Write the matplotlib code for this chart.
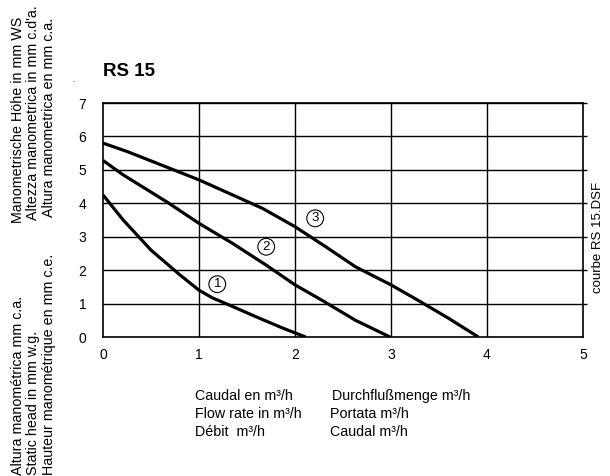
import matplotlib
matplotlib.use("Agg")
import matplotlib.pyplot as plt

plt.rcParams['font.family'] = ['Liberation Sans', 'DejaVu Sans']

# Pump curves: flow rate (m3/h) vs. head (m)
flow_1 = [0.0, 0.21, 0.50, 0.80, 1.00, 1.14, 1.28, 1.59, 1.87, 2.11]
head_1 = [4.25, 3.50, 2.60, 1.86, 1.40, 1.17, 1.00, 0.61, 0.27, 0.0]

flow_2 = [0.0, 0.21, 0.66, 1.00, 1.35, 1.70, 2.00, 2.28, 2.63, 2.99]
head_2 = [5.28, 4.85, 4.05, 3.40, 2.80, 2.15, 1.56, 1.10, 0.50, 0.0]

flow_3 = [0.0, 0.25, 0.56, 1.00, 1.35, 1.66, 2.00, 2.32, 2.63, 3.00, 3.28, 3.60, 3.91]
head_3 = [5.80, 5.55, 5.20, 4.70, 4.25, 3.85, 3.30, 2.70, 2.10, 1.56, 1.10, 0.56, 0.0]

curve_labels = ["1", "2", "3"]
label_x = [1.19, 1.70, 2.21]
label_y = [1.58, 2.70, 3.55]

x_ticks = [0, 1, 2, 3, 4, 5]
y_ticks = [0, 1, 2, 3, 4, 5, 6, 7]

fig = plt.figure(figsize=(6.10, 4.76), dpi=100)
ax = fig.add_axes([0.1689, 0.292, 0.7868, 0.4916])
ax.set_xlim(0, 5)
ax.set_ylim(0, 7)

# grid
for xv in x_ticks[1:-1]:
    ax.axvline(xv, color='black', lw=1.0, zorder=1)
ax.hlines(y_ticks[1:], 0, 5.04, color='black', lw=1.0, clip_on=False, zorder=1)
for s in ax.spines.values():
    s.set_linewidth(1.2)

for fx, hy in [(flow_1, head_1), (flow_2, head_2), (flow_3, head_3)]:
    ax.plot(fx, hy, color='black', lw=2.3, solid_capstyle='butt', zorder=3)

for t, lx, ly in zip(curve_labels, label_x, label_y):
    ax.text(lx, ly, t, ha='center', va='center', fontsize=9.5, zorder=4,
            bbox=dict(boxstyle='circle,pad=0.18', fc='white', ec='black', lw=0.8))

ax.set_xticks(x_ticks)
ax.set_yticks(y_ticks)
ax.tick_params(length=0, labelsize=10, pad=8)
ax.tick_params(axis='y', pad=12)

fig.text(103 / 610, 1 - 71 / 476, "RS 15", fontsize=13.5, fontweight='bold',
         ha='left', va='center')
fig.text(73 / 610, 1 - 80 / 476, ".", fontsize=6, ha='center', va='center')

# left axis titles (upper group)
upper = ["Manometrische Höhe in mm WS",
         "Altezza manometrica in mm c.d'a.",
         "Altura manometrica en mm c.a."]
col_x = [18, 33, 49]
upper_bottom = [223, 220, 217]
for t, px, py in zip(upper, col_x, upper_bottom):
    fig.text(px / 610, 1 - py / 476, t, rotation=90, fontsize=10.3,
             ha='center', va='bottom')

# left axis titles (lower group)
lower = ["Altura manométrica mm c.a.",
         "Static head in mm w.g.",
         "Hauteur manométrique en mm c.e."]
for t, px in zip(lower, col_x):
    fig.text(px / 610, 1 - 475 / 476, t, rotation=90, fontsize=10.3,
             ha='center', va='bottom')

fig.text(598 / 610, 1 - 237 / 476, "courbe RS 15.DSF", rotation=90,
         fontsize=9.5, ha='center', va='center')

# flow-rate titles
left_col = ["Caudal en m³/h", "Flow rate in m³/h", "Débit  m³/h"]
right_col = ["Durchflußmenge m³/h", "Portata m³/h", "Caudal m³/h"]
rows_y = [396, 414, 432]
for t, py in zip(left_col, rows_y):
    fig.text(195 / 610, 1 - py / 476, t, fontsize=10.3, ha='left', va='center')
for t, py, px in zip(right_col, rows_y, [332, 330, 330]):
    fig.text(px / 610, 1 - py / 476, t, fontsize=10.3, ha='left', va='center')

fig.savefig("out.png", dpi=100)
